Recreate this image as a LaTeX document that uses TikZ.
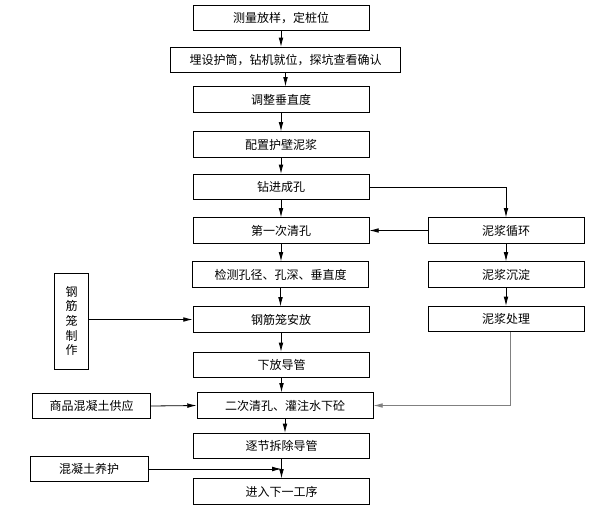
\documentclass[tikz,border=0pt]{standalone}
\usepackage{fontspec}
\usetikzlibrary{arrows.meta}
\newfontfamily\cjk{Noto Sans CJK SC}
\tikzset{arrow/.style={->, >={Latex[length=7pt,width=3.5pt]}}}
\tikzset{box/.style={draw, minimum height=19pt, inner sep=0pt, font=\cjk\fontsize{9}{11}\selectfont}}
\tikzset{mainbox/.style={box, minimum width=132pt}}
\tikzset{sidebox/.style={box, minimum width=117pt}}

\begin{document}
\begin{tikzpicture}[x=0.75pt, y=-0.75pt, line width=0.6pt]
      \useasboundingbox (0,0) rectangle (600,507);

      \node[mainbox] (measure) at (281, 18) {测量放样，定桩位};
      \node[box, minimum width=172pt] (casing) at (285.5, 60) {埋设护筒，钻机就位，探坑查看确认};
      \node[mainbox] (plumb) at (281, 99.5) {调整垂直度};
      \node[mainbox] (slurry) at (281, 144.5) {配置护壁泥浆};
      \node[mainbox] (drill) at (281, 187) {钻进成孔};
      \node[mainbox] (clean1) at (281, 230.5) {第一次清孔};
      \node[mainbox] (inspect) at (280.5, 274.5) {检测孔径、孔深、垂直度};
      \node[mainbox] (cage) at (281, 319.5) {钢筋笼安放};
      \node[mainbox] (pipe) at (281.5, 365) {下放导管};
      \node[mainbox] (clean2) at (285, 405.5) {二次清孔、灌注水下砼};
      \node[mainbox] (remove) at (281.5, 446) {逐节拆除导管};
      \node[mainbox] (next) at (281.5, 491.5) {进入下一工序};

      \node[sidebox] (circulate) at (506, 230.5) {泥浆循环};
      \node[sidebox] (settle) at (506, 274.5) {泥浆沉淀};
      \node[sidebox] (treat) at (506, 319) {泥浆处理};

      \node[box, minimum width=26pt, minimum height=72pt, align=center] (cagemake) at (71.5, 321) {钢\\筋\\笼\\制\\作};
      \node[box, minimum width=89pt] (supply) at (91.5, 406) {商品混凝土供应};
      \node[box, minimum width=88.5pt] (cure) at (89, 469) {混凝土养护};

      \foreach \a/\b in {measure/casing, casing/plumb, plumb/slurry, slurry/drill,
                         drill/clean1, clean1/inspect, inspect/cage, cage/pipe,
                         pipe/clean2, clean2/remove, remove/next}
        \draw[arrow] (\a.south) -- (\a.south |- \b.north);

      \draw[arrow] (drill.east) -| (circulate.north);
      \draw[arrow] (circulate.west) -- (clean1.east);
      \draw[arrow] (circulate) -- (settle);
      \draw[arrow] (settle) -- (treat);
      \draw[arrow, gray] ([xshift=3pt]treat.south) |- (clean2.east);

      \draw[arrow] (cagemake.east |- cage) -- (cage.west);
      \draw[arrow] (supply.east) -- (clean2.west);
      \draw[arrow] (cure.east) -- (cure.east -| remove.south);
    \end{tikzpicture}
\end{document}
